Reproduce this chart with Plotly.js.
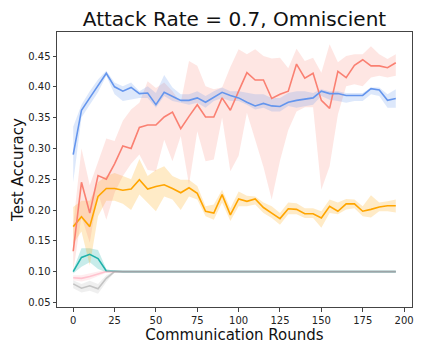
<!DOCTYPE html>
<html>
<head>
<meta charset="utf-8">
<script src="https://cdn.plot.ly/plotly-3.0.1.min.js"></script>
<style>
  html, body { margin: 0; padding: 0; background: #fff; }
  #chart { width: 423px; height: 353px; }
</style>
</head>
<body>
<div id="chart"></div>
<script>
// communication rounds (one point every 5 rounds)
const rounds = [0, 5, 10, 15, 20, 25, 30, 35, 40, 45, 50, 55, 60, 65, 70, 75, 80, 85, 90, 95,
  100, 105, 110, 115, 120, 125, 130, 135, 140, 145, 150, 155, 160, 165, 170, 175, 180, 185, 190, 195];

const blueMean = [0.290, 0.362, 0.382, 0.401, 0.422, 0.400, 0.393, 0.399, 0.389, 0.390,
  0.371, 0.391, 0.385, 0.378, 0.378, 0.382, 0.375, 0.383, 0.391, 0.386,
  0.382, 0.375, 0.369, 0.373, 0.369, 0.368, 0.375, 0.378, 0.380, 0.382,
  0.393, 0.389, 0.389, 0.386, 0.386, 0.386, 0.397, 0.395, 0.378, 0.381];
const blueUpper = [0.335, 0.371, 0.393, 0.412, 0.426, 0.407, 0.401, 0.407, 0.393, 0.401,
  0.390, 0.419, 0.399, 0.388, 0.388, 0.393, 0.385, 0.393, 0.399, 0.393,
  0.393, 0.390, 0.388, 0.388, 0.382, 0.382, 0.390, 0.393, 0.393, 0.390,
  0.396, 0.393, 0.393, 0.390, 0.390, 0.390, 0.399, 0.399, 0.388, 0.396];
const blueLower = [0.245, 0.350, 0.371, 0.391, 0.418, 0.388, 0.377, 0.380, 0.382, 0.382,
  0.366, 0.385, 0.377, 0.374, 0.371, 0.374, 0.366, 0.377, 0.382, 0.377,
  0.377, 0.371, 0.363, 0.366, 0.360, 0.360, 0.369, 0.366, 0.369, 0.371,
  0.385, 0.379, 0.377, 0.374, 0.377, 0.377, 0.388, 0.385, 0.366, 0.366];

const redMean = [0.133, 0.245, 0.195, 0.256, 0.250, 0.275, 0.304, 0.300, 0.334, 0.338,
  0.338, 0.351, 0.359, 0.332, 0.352, 0.371, 0.351, 0.351, 0.382, 0.362,
  0.393, 0.423, 0.411, 0.411, 0.381, 0.388, 0.393, 0.437, 0.414, 0.422,
  0.378, 0.365, 0.425, 0.415, 0.435, 0.444, 0.434, 0.434, 0.431, 0.439];
const redUpper = [0.175, 0.300, 0.240, 0.278, 0.316, 0.312, 0.345, 0.363, 0.374, 0.409,
  0.398, 0.407, 0.393, 0.374, 0.442, 0.434, 0.401, 0.396, 0.399, 0.432,
  0.461, 0.453, 0.461, 0.450, 0.446, 0.447, 0.430, 0.462, 0.442, 0.447,
  0.423, 0.469, 0.440, 0.450, 0.453, 0.453, 0.466, 0.453, 0.445, 0.453];
const redLower = [0.100, 0.190, 0.147, 0.228, 0.184, 0.228, 0.255, 0.275, 0.290, 0.265,
  0.263, 0.314, 0.279, 0.320, 0.241, 0.328, 0.279, 0.282, 0.350, 0.263,
  0.288, 0.358, 0.314, 0.270, 0.217, 0.280, 0.330, 0.360, 0.367, 0.367,
  0.233, 0.271, 0.355, 0.401, 0.404, 0.401, 0.415, 0.418, 0.415, 0.418];

const orangeMean = [0.173, 0.189, 0.173, 0.222, 0.235, 0.235, 0.232, 0.234, 0.249, 0.234,
  0.238, 0.241, 0.235, 0.228, 0.236, 0.227, 0.198, 0.195, 0.225, 0.192,
  0.218, 0.214, 0.218, 0.204, 0.195, 0.186, 0.202, 0.201, 0.194, 0.194,
  0.187, 0.206, 0.198, 0.210, 0.210, 0.198, 0.201, 0.205, 0.207, 0.207];
const orangeUpper = [0.205, 0.215, 0.215, 0.245, 0.255, 0.260, 0.255, 0.250, 0.283, 0.255,
  0.265, 0.271, 0.255, 0.249, 0.249, 0.239, 0.206, 0.209, 0.233, 0.203,
  0.230, 0.223, 0.222, 0.212, 0.206, 0.195, 0.212, 0.211, 0.203, 0.203,
  0.198, 0.217, 0.212, 0.218, 0.217, 0.206, 0.224, 0.212, 0.214, 0.217];
const orangeLower = [0.145, 0.165, 0.110, 0.190, 0.215, 0.215, 0.210, 0.200, 0.225, 0.211,
  0.198, 0.222, 0.217, 0.200, 0.222, 0.217, 0.190, 0.184, 0.212, 0.182,
  0.206, 0.206, 0.209, 0.195, 0.187, 0.176, 0.193, 0.193, 0.187, 0.187,
  0.171, 0.195, 0.193, 0.201, 0.203, 0.190, 0.188, 0.198, 0.198, 0.196];

const tealMean = [0.100, 0.123, 0.128, 0.121, 0.101, 0.100, 0.100, 0.100, 0.100, 0.100,
  0.100, 0.100, 0.100, 0.100, 0.100, 0.100, 0.100, 0.100, 0.100, 0.100,
  0.100, 0.100, 0.100, 0.100, 0.100, 0.100, 0.100, 0.100, 0.100, 0.100,
  0.100, 0.100, 0.100, 0.100, 0.100, 0.100, 0.100, 0.100, 0.100, 0.100];
const pinkMean = [0.090, 0.089, 0.092, 0.096, 0.100, 0.100, 0.100, 0.100, 0.100, 0.100,
  0.100, 0.100, 0.100, 0.100, 0.100, 0.100, 0.100, 0.100, 0.100, 0.100,
  0.100, 0.100, 0.100, 0.100, 0.100, 0.100, 0.100, 0.100, 0.100, 0.100,
  0.100, 0.100, 0.100, 0.100, 0.100, 0.100, 0.100, 0.100, 0.100, 0.100];
const grayMean = [0.080, 0.073, 0.077, 0.072, 0.089, 0.100, 0.100, 0.100, 0.100, 0.100,
  0.100, 0.100, 0.100, 0.100, 0.100, 0.100, 0.100, 0.100, 0.100, 0.100,
  0.100, 0.100, 0.100, 0.100, 0.100, 0.100, 0.100, 0.100, 0.100, 0.100,
  0.100, 0.100, 0.100, 0.100, 0.100, 0.100, 0.100, 0.100, 0.100, 0.100];

// bands of the three collapsed runs only matter for the first rounds
const earlyRounds = [0, 5, 10, 15, 20, 25, 30];
const tealUpper = [0.103, 0.138, 0.138, 0.135, 0.104, 0.101, 0.100];
const tealLower = [0.097, 0.108, 0.115, 0.104, 0.099, 0.099, 0.100];
const pinkUpper = [0.094, 0.094, 0.097, 0.100, 0.102, 0.101, 0.100];
const pinkLower = [0.086, 0.084, 0.087, 0.092, 0.098, 0.099, 0.100];
const grayUpper = [0.086, 0.080, 0.085, 0.080, 0.094, 0.101, 0.100];
const grayLower = [0.073, 0.066, 0.069, 0.064, 0.083, 0.099, 0.100];

const yTicks = [0.05, 0.10, 0.15, 0.20, 0.25, 0.30, 0.35, 0.40, 0.45];
const xTicks = [0, 25, 50, 75, 100, 125, 150, 175, 200];

// closed polygon between lower and upper curve
const band = (x, lower, upper, fill) => ({
  x: x.concat(x.slice().reverse()),
  y: lower.concat(upper.slice().reverse()),
  type: "scatter",
  mode: "lines",
  fill: "toself",
  fillcolor: fill,
  line: {width: 0},
  hoverinfo: "skip",
  showlegend: false,
});

const line = (x, y, color) => ({
  x: x,
  y: y,
  type: "scatter",
  mode: "lines",
  line: {color: color, width: 1.6},
  showlegend: false,
});

const traces = [
  band(earlyRounds, grayLower, grayUpper, "rgba(190,190,190,0.25)"),
  band(earlyRounds, pinkLower, pinkUpper, "rgba(255,182,193,0.25)"),
  band(earlyRounds, tealLower, tealUpper, "rgba(32,178,170,0.25)"),
  band(rounds, orangeLower, orangeUpper, "rgba(255,165,0,0.22)"),
  band(rounds, redLower, redUpper, "rgba(250,128,114,0.2)"),
  band(rounds, blueLower, blueUpper, "rgba(100,149,237,0.22)"),
  line(rounds, tealMean, "#20b2aa"),
  line(rounds, pinkMean, "rgba(255,160,180,0.55)"),
  line(rounds, grayMean, "rgba(160,160,160,0.55)"),
  line(rounds, orangeMean, "#ffa500"),
  line(rounds, redMean, "#fa8072"),
  line(rounds, blueMean, "#6495ed"),
];

const axisStyle = {
  showline: true,
  mirror: true,
  linecolor: "#444",
  linewidth: 1,
  showgrid: false,
  zeroline: false,
  ticks: "outside",
  ticklen: 3.5,
  tickcolor: "#444",
  tickfont: {family: "DejaVu Sans", size: 10, color: "#222"},
};

const layout = {
  width: 423,
  height: 353,
  margin: {l: 57, r: 11, t: 32, b: 46},
  paper_bgcolor: "#fff",
  plot_bgcolor: "#fff",
  title: {
    text: "Attack Rate = 0.7, Omniscient",
    font: {family: "DejaVu Sans", size: 20, color: "#111"},
    x: 0.5,
    xref: "paper",
    y: 0.947,
    yref: "container",
    yanchor: "middle",
  },
  xaxis: Object.assign({}, axisStyle, {
    range: [-9.8, 204.8],
    tickvals: xTicks,
    title: {text: "Communication Rounds", font: {family: "DejaVu Sans", size: 15, color: "#111"}, standoff: 4},
  }),
  yaxis: Object.assign({}, axisStyle, {
    range: [0.0425, 0.489],
    tickvals: yTicks,
    tickformat: ".2f",
    title: {text: "Test Accuracy", font: {family: "DejaVu Sans", size: 15, color: "#111"}, standoff: 0},
  }),
};

Plotly.newPlot("chart", traces, layout, {displayModeBar: false, staticPlot: true});
</script>
</body>
</html>
